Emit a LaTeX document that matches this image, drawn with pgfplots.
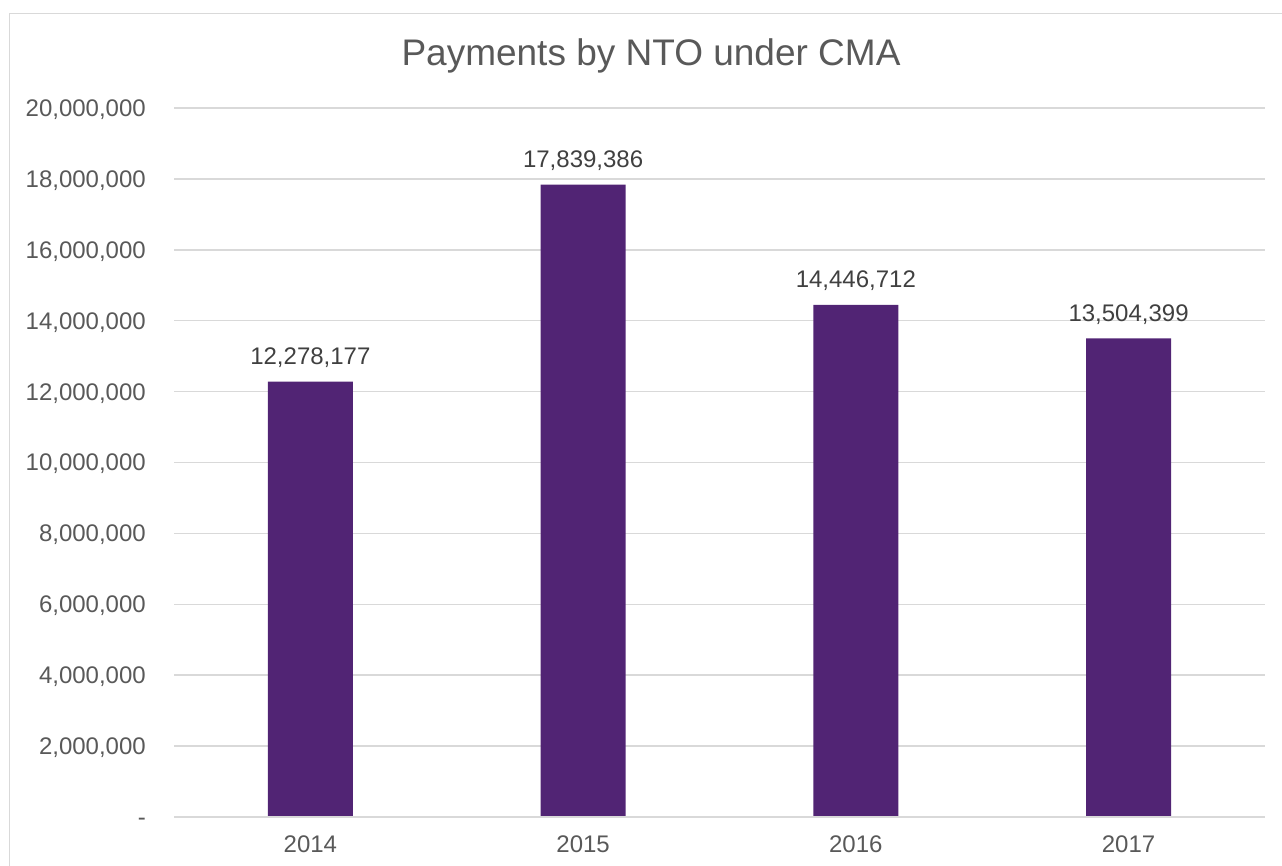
\documentclass[border=0pt]{standalone}
\usepackage{pgfplots}
\pgfplotsset{compat=1.18}
\usepackage{fontspec}
\setmainfont{Liberation Sans}
\definecolor{barpurple}{RGB}{81,36,116}
\definecolor{txtgray}{RGB}{89,89,89}
\definecolor{lblgray}{RGB}{64,64,64}
\definecolor{gridgray}{RGB}{217,217,217}
\begin{document}
\begin{tikzpicture}[x=1pt,y=1pt]
\useasboundingbox (0,0) rectangle (1282,865);
\begin{scope}
\clip (0,0) rectangle (1282,865);
\draw[gridgray, line width=1.5pt] (9.5,-20) -- (9.5,851.5) -- (1300,851.5);
\end{scope}
\node[anchor=base, text=txtgray, font=\fontsize{37}{42}\selectfont] at (651,799) {Payments by NTO under CMA};
\begin{axis}[
  at={(174pt,48pt)}, anchor=south west,
  scale only axis, width=1091pt, height=709pt,
  xmin=-0.5, xmax=3.5, ymin=0, ymax=20000000,
  xtick=data, xticklabels={2014,2015,2016,2017},
  ytick={0,2000000,4000000,6000000,8000000,10000000,12000000,14000000,16000000,18000000,20000000},
  yticklabels={{-},{2,000,000},{4,000,000},{6,000,000},{8,000,000},{10,000,000},{12,000,000},{14,000,000},{16,000,000},{18,000,000},{20,000,000}},
  major tick length=0pt,
  axis line style={draw=none},
  ymajorgrids, grid style={gridgray, line width=1.5pt},
  xticklabel style={anchor=base, inner sep=0pt, yshift=-35pt, text=txtgray, font=\fontsize{24}{28}\selectfont},
  yticklabel style={anchor=base east, inner sep=0pt, xshift=-28pt, yshift=-8.5pt, text=txtgray, font=\fontsize{24}{28}\selectfont},
  scaled y ticks=false,
  ybar, bar width=85pt,
  point meta=explicit symbolic,
  nodes near coords={\pgfplotspointmeta},
  nodes near coords style={anchor=base, inner sep=0pt, yshift=17pt, text=lblgray, font=\fontsize{24}{28}\selectfont},
  clip=false,
]
\addplot[fill=barpurple, draw=none] coordinates {
  (0,12278177) [12,278,177]
  (1,17839386) [17,839,386]
  (2,14446712) [14,446,712]
  (3,13504399) [13,504,399]
};
\draw[gridgray, line width=2pt] (axis cs:-0.5,0) -- (axis cs:3.5,0);
\end{axis}
\end{tikzpicture}
\end{document}
